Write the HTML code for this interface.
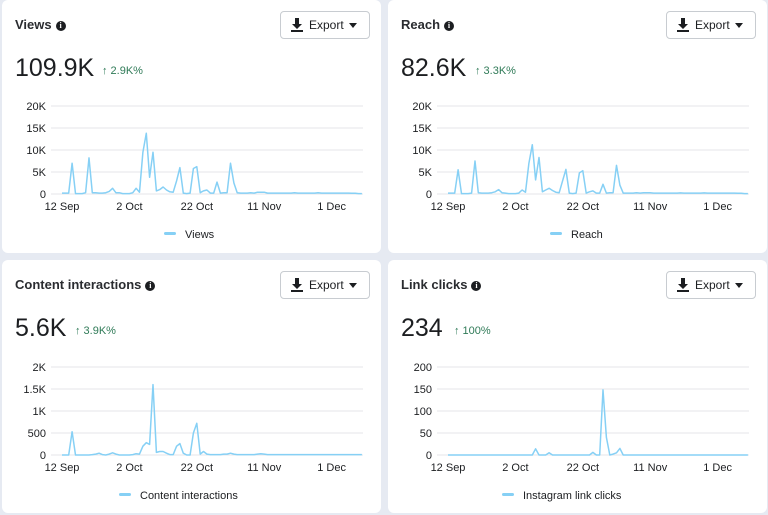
<!DOCTYPE html>
<html><head><meta charset="utf-8">
<style>
*{box-sizing:border-box;margin:0;padding:0}
body{width:768px;height:515px;background:#e6eaf2;font-family:"Liberation Sans",sans-serif;color:#1c1e21;position:relative;overflow:hidden}
.card{position:absolute;background:#fff;border-radius:6px;width:379px;height:253px}
.title{position:absolute;left:13px;top:17px;font-size:13px;font-weight:bold;color:#2a2c30}
.info{display:inline-block;width:10px;height:10px;border-radius:50%;background:#1c1e21;color:#fff;font-size:8px;text-align:center;line-height:10px;vertical-align:1px;margin-left:4px;font-family:"Liberation Serif",serif;font-weight:bold}
.export{position:absolute;left:278px;top:11px;width:90px;height:28px;border:1px solid #c8ccd1;border-radius:4px;font-size:12px;line-height:26px;padding-left:28px}
.export .dl{position:absolute;left:10px;top:6px;width:12px;height:14px}
.export .caret{position:absolute;right:12px;top:11px;border-left:4px solid transparent;border-right:4px solid transparent;border-top:5px solid #1c1e21}
.big{position:absolute;left:13px;top:54px;font-size:25px;color:#1c1e21}
.delta{position:absolute;top:65px;font-size:11px;color:#2f7a57}
svg{position:absolute;left:0;top:0}
</style></head><body>
<div class="card" style="left:2px;top:0">
 <div class="title">Views<span class="info">i</span></div>
 <div class="export"><svg class="dl" viewBox="0 0 12 14"><path d="M4 0h4v6h3l-5 5-5-5h3z M0 12h12v2H0z" fill="#1c1e21"/></svg>Export<span class="caret"></span></div>
 <div class="big">109.9K</div>
 <div class="delta" style="left:100px">↑ 2.9K%</div>
 <svg id="c1" width="379" height="253"></svg>
</div>
<div class="card" style="left:388px;top:0">
 <div class="title">Reach<span class="info">i</span></div>
 <div class="export"><svg class="dl" viewBox="0 0 12 14"><path d="M4 0h4v6h3l-5 5-5-5h3z M0 12h12v2H0z" fill="#1c1e21"/></svg>Export<span class="caret"></span></div>
 <div class="big">82.6K</div>
 <div class="delta" style="left:87px">↑ 3.3K%</div>
 <svg id="c2" width="379" height="253"></svg>
</div>
<div class="card" style="left:2px;top:260px">
 <div class="title">Content interactions<span class="info">i</span></div>
 <div class="export"><svg class="dl" viewBox="0 0 12 14"><path d="M4 0h4v6h3l-5 5-5-5h3z M0 12h12v2H0z" fill="#1c1e21"/></svg>Export<span class="caret"></span></div>
 <div class="big">5.6K</div>
 <div class="delta" style="left:73px">↑ 3.9K%</div>
 <svg id="c3" width="379" height="253"></svg>
</div>
<div class="card" style="left:388px;top:260px">
 <div class="title">Link clicks<span class="info">i</span></div>
 <div class="export"><svg class="dl" viewBox="0 0 12 14"><path d="M4 0h4v6h3l-5 5-5-5h3z M0 12h12v2H0z" fill="#1c1e21"/></svg>Export<span class="caret"></span></div>
 <div class="big">234</div>
 <div class="delta" style="left:66px">↑ 100%</div>
 <svg id="c4" width="379" height="253"></svg>
</div>
<script>
const dateLabels=["12 Sep","2 Oct","22 Oct","11 Nov","1 Dec"];
const dateLabelDays=[0,20,40,60,80];
const viewsValues=[200,200,200,7000,100,100,100,300,8200,300,300,200,200,300,600,1300,300,300,100,100,100,300,1300,400,9500,13800,3800,9500,700,1000,1600,900,500,400,3000,6000,200,100,200,5800,6200,300,700,900,200,200,2700,200,300,300,7000,2500,300,200,200,200,300,200,400,400,400,200,200,200,200,200,200,200,200,300,200,200,200,200,200,200,300,200,200,200,200,200,200,200,200,200,150,150,100,100];
const reachValues=[200,200,200,5500,100,100,100,200,7500,300,200,200,200,300,500,1000,300,200,100,100,100,200,900,400,7000,11200,3200,8300,500,900,1300,800,400,300,3000,5600,200,100,200,4800,5300,200,500,700,200,200,2200,200,300,300,6500,2000,200,200,200,200,300,200,300,300,300,200,200,200,200,200,200,200,200,250,200,200,200,200,200,200,250,200,200,200,200,200,200,200,200,200,150,150,100,100];
const interactionValues=[0,0,0,530,0,0,0,0,0,10,20,40,10,0,20,50,20,0,0,0,0,10,30,20,200,280,240,1600,60,80,80,40,10,10,200,260,40,0,0,500,720,20,80,20,10,10,10,10,20,20,40,20,10,10,10,10,10,10,20,30,20,10,10,10,10,10,10,10,10,10,10,10,10,10,10,10,10,10,10,10,10,10,10,10,10,10,10,10,10,10];
const linkClickValues=[0,0,0,0,0,0,0,0,0,0,0,0,0,0,0,0,0,0,0,0,0,0,0,0,0,0,14,0,0,0,5,0,0,0,0,0,0,0,0,0,0,0,0,6,0,0,148,40,0,2,5,15,0,0,0,0,0,0,0,0,0,0,0,0,0,0,0,0,0,0,0,0,0,0,0,0,0,0,0,0,0,0,0,0,0,0,0,0,0,0];
const viewsTicks=["0","5K","10K","15K","20K"];
const interactionTicks=["0","500","1K","1.5K","2K"];
const linkTicks=["0","50","100","150","200"];
const NS="http://www.w3.org/2000/svg";
function mk(svg,tag,attrs){const e=document.createElementNS(NS,tag);for(const k in attrs)e.setAttribute(k,attrs[k]);svg.appendChild(e);return e;}
function draw(id,values,maxV,ticks,legend,yTop,yZero){
 const svg=document.getElementById(id);
 const x=d=>60+d*3.37;
 const y=v=>yZero-(v/maxV)*(yZero-yTop);
 ticks.forEach((t,i)=>{
  const v=maxV*i/(ticks.length-1);
  const g=mk(svg,'line',{x1:49,x2:361,y1:y(v),y2:y(v),stroke:'#e4e6ea','stroke-width':1});
  
  
  const tx=mk(svg,'text',{x:44,y:y(v)+4,'text-anchor':'end','font-size':11,fill:'#1c1e21','font-family':'Liberation Sans, sans-serif'});
  tx.textContent=t;
  
  
 });
 dateLabels.forEach((l,i)=>{
  const tx=mk(svg,'text',{x:x(dateLabelDays[i]),y:yZero+16,'text-anchor':'middle','font-size':11,fill:'#1c1e21','font-family':'Liberation Sans, sans-serif'});
  tx.textContent=l;
  
  
 });
 const pts=values.map((v,i)=>x(i).toFixed(1)+','+y(v).toFixed(1)).join(' ');
 const pl=mk(svg,'polyline',{points:pts,fill:'none',stroke:'#86d0f5','stroke-width':1.5,'stroke-linejoin':'round'});
 
 
 const w=legend.length*6;
 const cx=198;
 const sw=mk(svg,'rect',{x:cx-w/2-21,y:yZero+38,width:12,height:3,rx:1.5,fill:'#86d0f5'});
 
 
 const lt=mk(svg,'text',{x:cx-w/2,y:yZero+44,'font-size':11,fill:'#1c1e21','font-family':'Liberation Sans, sans-serif'});
 lt.textContent=legend;
 
 
}
draw('c1',viewsValues,20000,viewsTicks,'Views',106,194);
draw('c2',reachValues,20000,viewsTicks,'Reach',106,194);
draw('c3',interactionValues,2000,interactionTicks,'Content interactions',107,195);
draw('c4',linkClickValues,200,linkTicks,'Instagram link clicks',107,195);
</script>
</body></html>
